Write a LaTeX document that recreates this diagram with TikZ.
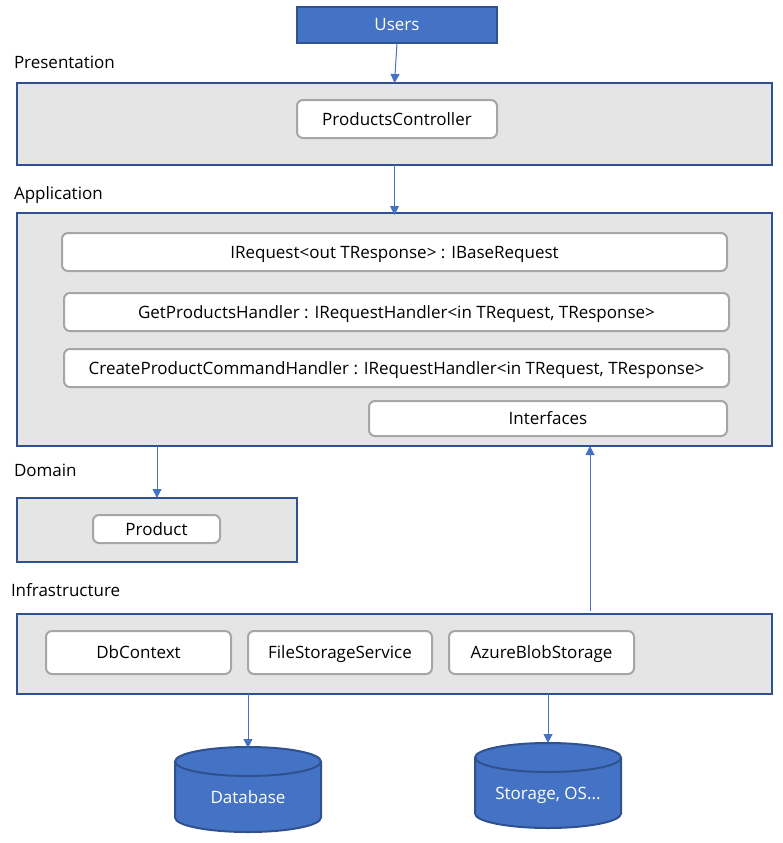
\documentclass[tikz,border=0pt]{standalone}
\usepackage{fontspec}
\setmainfont{Open Sans}
\usetikzlibrary{arrows.meta}
\definecolor{bluefill}{HTML}{4472C4}
\definecolor{blueedge}{HTML}{2F528F}
\definecolor{layerfill}{HTML}{E5E5E5}
\definecolor{inneredge}{HTML}{A6A6A6}
\tikzset{
  every node/.style={outer sep=0pt,inner sep=0pt,font=\fontsize{17}{20}\selectfont,text=black,
    align=center,text height=14pt,text depth=2pt},
  layer/.style={draw=blueedge,line width=2pt,fill=layerfill,rectangle},
  item/.style={draw=inneredge,line width=2pt,fill=white,rectangle,rounded corners=6pt},
  actor/.style={draw=blueedge,line width=2pt,fill=bluefill,rectangle,text=white},
  label/.style={anchor=west},
  store/.style={rectangle,minimum width=146pt,minimum height=85pt},
  storebody/.style={draw=blueedge,line width=2pt,fill=bluefill},
  storetext/.style={text=white},
  conn/.style={draw=bluefill,line width=1pt,-{Triangle[length=9pt,width=9pt]}},
}
\newcommand{\drum}[1]{%
  \draw[storebody] ([yshift=-14.5pt]#1.north west) -- ([yshift=14.5pt]#1.south west)
     arc[start angle=180,end angle=360,x radius=73pt,y radius=14.5pt]
     -- ([yshift=-14.5pt]#1.north east) arc[start angle=0,end angle=180,x radius=73pt,y radius=14.5pt] -- cycle;
  \draw[storebody,fill=none] ([yshift=-14.5pt]#1.north west)
     arc[start angle=180,end angle=360,x radius=73pt,y radius=14.5pt];
}
\begin{document}
\begin{tikzpicture}[x=1pt,y=-1pt]
\useasboundingbox (0,0) rectangle (783,843);
\node[actor,minimum width=200pt,minimum height=36pt] (users) at (397,25) {Users};
\node[label] (lpres) at (14,63) {Presentation};
\node[layer,minimum width=755pt,minimum height=82pt] (pres) at (394.5,124) {};
\node[item,minimum width=200pt,minimum height=38pt] (ctrl) at (397,119) {ProductsController};
\node[label] (lapp) at (14,193) {Application};
\node[layer,minimum width=755pt,minimum height=233pt] (app) at (394.5,329.5) {};
\node[item,minimum width=665pt,minimum height=38pt] (ireq) at (394.5,252) {IRequest<out TResponse> : IBaseRequest};
\node[item,minimum width=665pt,minimum height=38pt] (gph) at (396.5,312) {GetProductsHandler : IRequestHandler<in TRequest, TResponse>};
\node[item,minimum width=665pt,minimum height=38pt] (cph) at (396.5,368) {CreateProductCommandHandler : IRequestHandler<in TRequest, TResponse>};
\node[item,minimum width=358pt,minimum height=35pt] (ifc) at (548,418.5) {Interfaces};
\node[label] (ldom) at (14,470) {Domain};
\node[layer,minimum width=280pt,minimum height=64pt] (dom) at (157,530) {};
\node[item,minimum width=127pt,minimum height=28pt] (prod) at (156.5,529) {Product};
\node[label] (linf) at (11,590) {Infrastructure};
\node[layer,minimum width=755pt,minimum height=80pt] (infra) at (394.5,654) {};
\node[item,minimum width=185pt,minimum height=43pt] (dbc) at (138.5,652.5) {DbContext};
\node[item,minimum width=184pt,minimum height=43pt] (fss) at (340,652.5) {FileStorageService};
\node[item,minimum width=185pt,minimum height=43pt] (abs) at (541.5,652.5) {AzureBlobStorage};
\node[store] (db) at (248,789.5) {};
\drum{db}
\node[storetext] (dbt) at (248,797) {Database};
\node[store] (st) at (548,785.5) {};
\drum{st}
\node[storetext] (stt) at (548,793) {Storage, OS...};
\coordinate (upfrom) at (590,611);
\coordinate (upto) at (590,446);
\draw[conn] (users.south) -- (pres.north);
\draw[conn] (pres.south) -- ([yshift=-2pt]app.north);
\draw[conn] (app.south -| dom.north) -- (dom.north);
\draw[conn] (upfrom) -- (upto);
\draw[conn] (infra.south -| db.center) -- ([yshift=-1pt]db.north);
\draw[conn] (infra.south -| st.center) -- (st.north);
\end{tikzpicture}
\end{document}
